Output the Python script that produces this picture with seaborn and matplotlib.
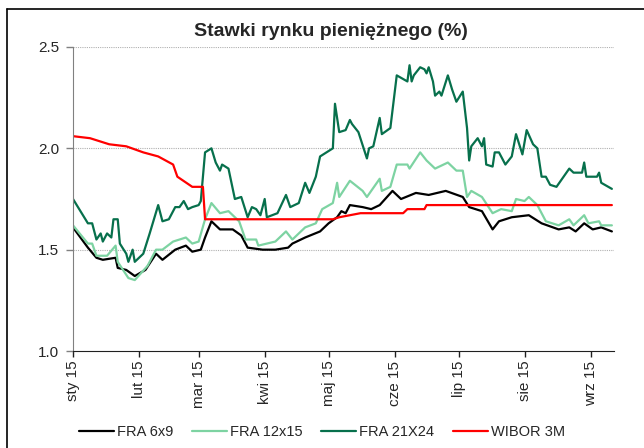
import pandas as pd
import matplotlib.pyplot as plt
import seaborn as sns

# FRA 6x9 (black)
fra69_dates = ["01-01", "01-08", "01-12", "01-15", "01-21", "01-22", "01-26", "01-30",
               "02-04", "02-09", "02-12", "02-18", "02-23", "02-26", "03-02", "03-04",
               "03-07", "03-11", "03-17", "03-21", "03-24", "03-31", "04-06", "04-12",
               "04-14", "04-20", "04-27", "04-30", "05-01", "05-05", "05-07", "05-09",
               "05-11", "05-17", "05-21", "05-25", "05-31", "06-04", "06-11", "06-17",
               "06-25", "07-03", "07-06", "07-12", "07-17", "07-20", "07-26", "08-03",
               "08-09", "08-17", "08-22", "08-25", "08-29", "09-02", "09-06", "09-11"]
fra69_vals = [1.61, 1.51, 1.46, 1.45, 1.46, 1.41, 1.40, 1.37,
              1.40, 1.48, 1.45, 1.50, 1.52, 1.49, 1.50, 1.56,
              1.64, 1.60, 1.60, 1.57, 1.51, 1.50, 1.50, 1.51,
              1.53, 1.56, 1.59, 1.62, 1.63, 1.66, 1.69, 1.68,
              1.72, 1.71, 1.70, 1.72, 1.79, 1.75, 1.78, 1.77,
              1.79, 1.76, 1.71, 1.69, 1.60, 1.64, 1.66, 1.67,
              1.63, 1.60, 1.61, 1.59, 1.63, 1.60, 1.61, 1.59]

# FRA 12x15 (light green)
fra1215_dates = ["01-01", "01-08", "01-10", "01-12", "01-17", "01-21", "01-22", "01-27",
                 "01-30", "02-05", "02-09", "02-12", "02-17", "02-23", "02-26", "03-01",
                 "03-04", "03-07", "03-11", "03-15", "03-20", "03-23", "03-28", "03-29",
                 "04-06", "04-11", "04-14", "04-20", "04-25", "04-28", "05-03", "05-05",
                 "05-06", "05-11", "05-17", "05-19", "05-25", "05-26", "05-30", "06-02",
                 "06-07", "06-08", "06-13", "06-16", "06-20", "06-26", "06-30", "07-03",
                 "07-05", "07-07", "07-12", "07-17", "07-21", "07-26", "07-28", "08-01",
                 "08-03", "08-07", "08-11", "08-17", "08-22", "08-24", "08-29", "08-31",
                 "09-05", "09-06", "09-11"]
fra1215_vals = [1.62, 1.53, 1.53, 1.47, 1.47, 1.52, 1.44, 1.36,
                1.35, 1.42, 1.50, 1.50, 1.54, 1.56, 1.53, 1.54,
                1.65, 1.73, 1.68, 1.69, 1.64, 1.55, 1.55, 1.52,
                1.54, 1.59, 1.55, 1.61, 1.63, 1.70, 1.73, 1.83,
                1.76, 1.84, 1.79, 1.76, 1.85, 1.79, 1.81, 1.92,
                1.92, 1.90, 1.98, 1.94, 1.90, 1.93, 1.89, 1.89,
                1.76, 1.79, 1.76, 1.68, 1.70, 1.69, 1.75, 1.74,
                1.76, 1.72, 1.64, 1.62, 1.65, 1.62, 1.67, 1.63,
                1.64, 1.62, 1.62]

# FRA 21X24 (dark green)
fra2124_dates = ["01-01", "01-08", "01-10", "01-12", "01-14", "01-15", "01-17", "01-19",
                 "01-20", "01-22", "01-23", "01-26", "01-27", "01-29", "01-30", "02-03",
                 "02-06", "02-10", "02-12", "02-15", "02-18", "02-20", "02-22", "02-24",
                 "02-26", "03-01", "03-02", "03-04", "03-07", "03-09", "03-11", "03-12",
                 "03-15", "03-18", "03-21", "03-24", "03-26", "03-28", "03-30", "04-01",
                 "04-02", "04-07", "04-11", "04-13", "04-17", "04-20", "04-22", "04-25",
                 "04-27", "05-03", "05-04", "05-06", "05-09", "05-11", "05-12", "05-15",
                 "05-19", "05-20", "05-22", "05-25", "05-26", "05-30", "06-02", "06-07",
                 "06-08", "06-09", "06-10", "06-13", "06-15", "06-16", "06-17", "06-19",
                 "06-20", "06-22", "06-23", "06-26", "06-28", "06-30", "07-03", "07-05",
                 "07-06", "07-07", "07-10", "07-12", "07-13", "07-14", "07-17", "07-18",
                 "07-20", "07-23", "07-26", "07-28", "07-31", "08-02", "08-05", "08-07",
                 "08-09", "08-11", "08-13", "08-16", "08-22", "08-24", "08-28", "08-29",
                 "08-30", "09-04", "09-05", "09-06", "09-11"]
fra2124_vals = [1.75, 1.63, 1.63, 1.55, 1.58, 1.54, 1.58, 1.56,
                1.65, 1.65, 1.53, 1.48, 1.44, 1.50, 1.44, 1.48,
                1.58, 1.72, 1.64, 1.65, 1.71, 1.71, 1.74, 1.70,
                1.71, 1.72, 1.74, 1.98, 2.00, 1.93, 1.89, 1.92,
                1.90, 1.75, 1.76, 1.66, 1.71, 1.70, 1.67, 1.75,
                1.66, 1.68, 1.77, 1.71, 1.73, 1.83, 1.78, 1.86,
                1.96, 2.00, 2.22, 2.08, 2.09, 2.14, 2.12, 2.08,
                1.95, 2.00, 2.01, 2.15, 2.07, 2.10, 2.36, 2.33,
                2.41, 2.33, 2.36, 2.40, 2.39, 2.37, 2.40, 2.33,
                2.26, 2.28, 2.26, 2.36, 2.29, 2.23, 2.28, 2.10,
                1.94, 2.01, 2.05, 2.01, 2.05, 1.92, 1.91, 1.98,
                1.98, 1.92, 1.96, 2.07, 1.97, 2.09, 2.02, 2.00,
                1.86, 1.86, 1.82, 1.81, 1.90, 1.88, 1.88, 1.93,
                1.86, 1.86, 1.88, 1.83, 1.80]

# WIBOR 3M (red)
wibor_dates = ["01-01", "01-09", "01-18", "01-26", "02-03", "02-10", "02-17", "02-19",
               "02-26", "03-03", "03-04", "05-03", "05-06", "05-11", "05-16", "06-05",
               "06-07", "06-15", "06-16", "09-11"]
wibor_vals = [2.06, 2.05, 2.02, 2.01, 1.98, 1.96, 1.92, 1.86,
              1.81, 1.81, 1.65, 1.65, 1.66, 1.67, 1.68, 1.68,
              1.70, 1.70, 1.72, 1.72]

series = [
    ("FRA 6x9", fra69_dates, fra69_vals, "black"),
    ("FRA 12x15", fra1215_dates, fra1215_vals, "#7dd3a2"),
    ("FRA 21X24", fra2124_dates, fra2124_vals, "#07704c"),
    ("WIBOR 3M", wibor_dates, wibor_vals, "#ff0000"),
]

month_labels = ["sty 15", "lut 15", "mar 15", "kwi 15", "maj 15", "cze 15",
                "lip 15", "sie 15", "wrz 15"]

sns.set_style("white")
plt.rcParams['font.family'] = ['Liberation Sans', 'DejaVu Sans']

fig = plt.figure(figsize=(6.44, 4.48), dpi=100)
ax = fig.add_axes([73 / 644, 97 / 448, 541 / 644, 304 / 448])

for name, d, v, c in series:
    df = pd.DataFrame({"date": pd.to_datetime(["2015-" + s for s in d]), "val": v})
    sns.lineplot(data=df, x="date", y="val", ax=ax, color=c, linewidth=1.6, label=name)

ax.set_xlim(pd.Timestamp("2015-01-01"), pd.Timestamp("2015-09-12"))
ax.set_ylim(1.0, 2.5)
ax.set_yticks([1.0, 1.5, 2.0, 2.5])
ax.set_yticklabels(["1.0", "1.5", "2.0", "2.5"])
ticks = pd.date_range("2015-01-01", periods=9, freq="MS")
ax.set_xticks(ticks)
ax.set_xticklabels(month_labels, rotation=90)
ax.set_xlabel("")
ax.set_ylabel("")

for yv in [1.5, 2.0, 2.5]:
    ax.axhline(yv, color="#b0b0b0", linestyle=(0, (1, 1)), linewidth=0.8, zorder=0)

for s in ["top", "right"]:
    ax.spines[s].set_visible(False)
ax.spines["left"].set_color("#808080")
ax.spines["bottom"].set_color("#202020")
ax.tick_params(axis="y", direction="out", length=5, width=1, color="#808080",
               labelsize=11, pad=5, left=True)
ax.tick_params(axis="x", direction="out", length=4, width=1, color="#202020",
               labelsize=11, pad=3, bottom=True)

fig.text(331 / 644, 1 - 31 / 448, "Stawki rynku pieniężnego (%)", ha="center",
         va="center", fontsize=14, fontweight="bold")

ax.get_legend().remove()
handles, labels = ax.get_legend_handles_labels()
fig.legend(handles, labels, loc="center", bbox_to_anchor=(322 / 644, 1 - 432 / 448),
           ncol=4, frameon=False, fontsize=10.5, handlelength=2.4, handletextpad=0.2,
           columnspacing=1.3)

# border on the left and top edges, as in the screenshot
fig.add_artist(plt.Line2D([7 / 644, 7 / 644], [0, 1 - 9 / 448], color="black",
                          linewidth=1.2, transform=fig.transFigure))
fig.add_artist(plt.Line2D([7 / 644, 1], [1 - 9 / 448, 1 - 9 / 448], color="black",
                          linewidth=1.2, transform=fig.transFigure))

fig.savefig("out.png", dpi=100)
